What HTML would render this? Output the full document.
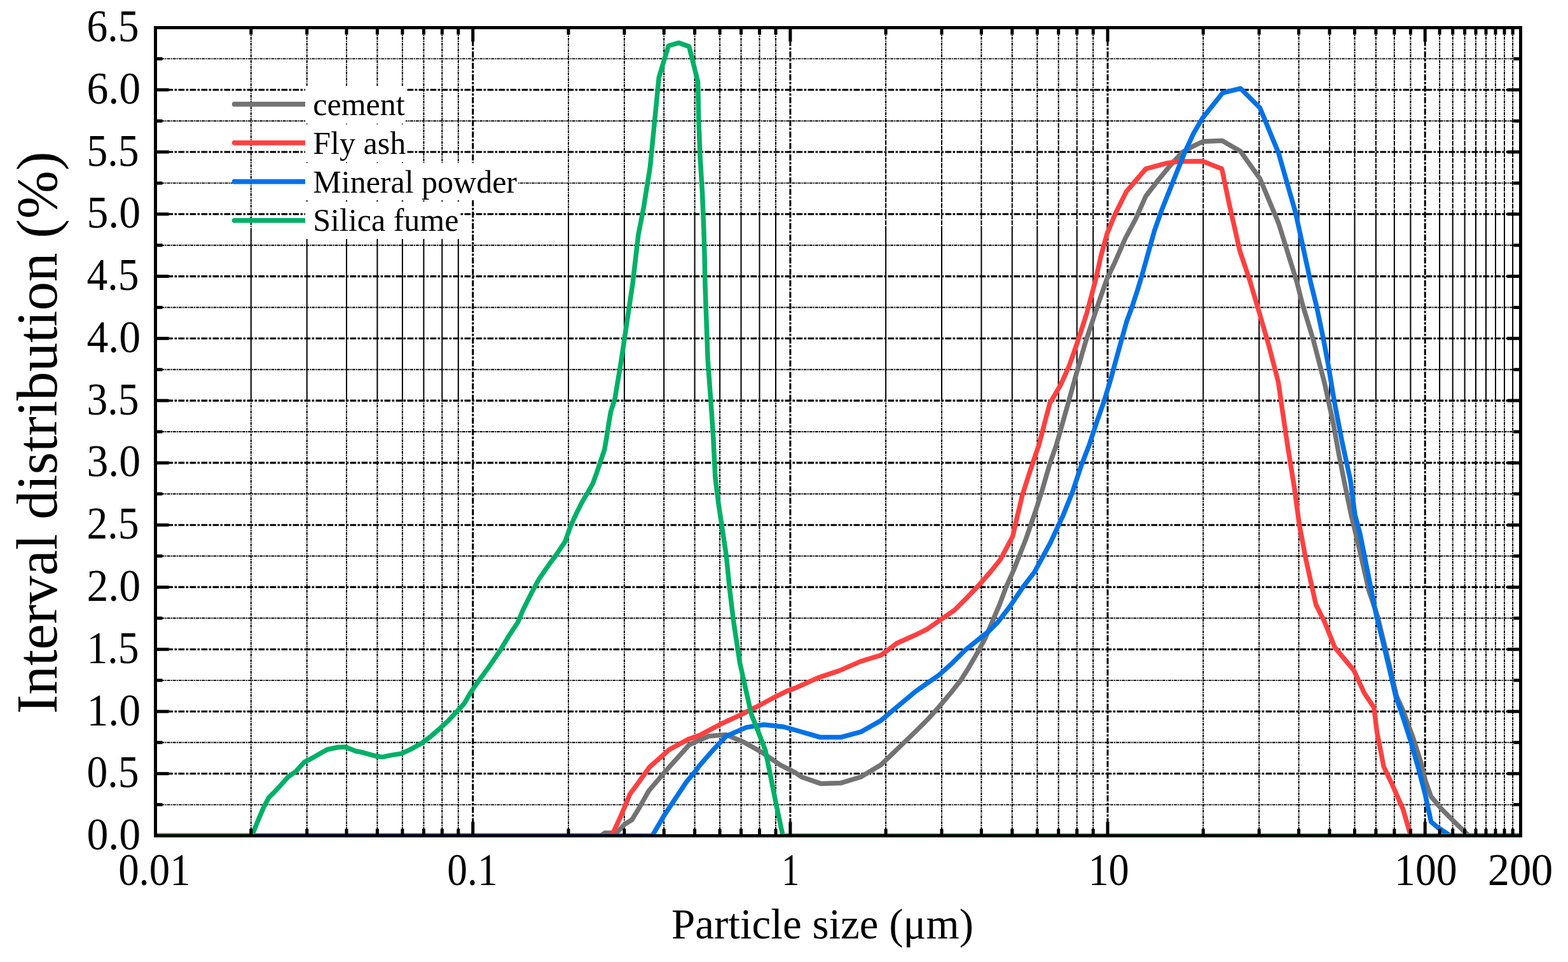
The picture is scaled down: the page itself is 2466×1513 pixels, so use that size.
<!DOCTYPE html><html><head><meta charset="utf-8"><title>Particle size distribution</title><style>
html,body{margin:0;padding:0;background:#fff;overflow:hidden;}
svg{display:block;}
text{font-family:"Liberation Serif","Times New Roman",serif;fill:#000;}
.tl{font-size:72px;}
.xt{font-size:67px;}
.yt{font-size:91px;}
.lg{font-size:50px;}
.hm{stroke-width:1.9;stroke-dasharray:4.9 1.1 2 1.1;}
.hM{stroke-width:3.1;stroke-dasharray:9.7 2.3 3.7 2.3;}
.vm{stroke-width:2;stroke-dasharray:4.6 1.3 1.9 1.3;}
.vs{stroke-width:2;}
.vl{stroke-width:2;stroke-dasharray:7.4 1.6;}
.vM{stroke-width:3.0;stroke-dasharray:9.7 2.3 3.7 2.3;}
</style></head><body><svg xmlns="http://www.w3.org/2000/svg" width="2466" height="1513" viewBox="0 0 2466 1513"><rect x="0" y="0" width="2466" height="1513" fill="#fff"/><g fill="none" stroke="#000"><line x1="244.5" y1="1265.6" x2="2391.5" y2="1265.6" class="hm"/><line x1="244.5" y1="1167.8" x2="2391.5" y2="1167.8" class="hm"/><line x1="244.5" y1="1070.1" x2="2391.5" y2="1070.1" class="hm"/><line x1="244.5" y1="972.3" x2="2391.5" y2="972.3" class="hm"/><line x1="244.5" y1="874.5" x2="2391.5" y2="874.5" class="hm"/><line x1="244.5" y1="776.8" x2="2391.5" y2="776.8" class="hm"/><line x1="244.5" y1="679.0" x2="2391.5" y2="679.0" class="hm"/><line x1="244.5" y1="581.2" x2="2391.5" y2="581.2" class="hm"/><line x1="244.5" y1="483.5" x2="2391.5" y2="483.5" class="hm"/><line x1="244.5" y1="385.7" x2="2391.5" y2="385.7" class="hm"/><line x1="244.5" y1="287.9" x2="2391.5" y2="287.9" class="hm"/><line x1="244.5" y1="190.2" x2="2391.5" y2="190.2" class="hm"/><line x1="244.5" y1="92.4" x2="2391.5" y2="92.4" class="hm"/><line x1="244.5" y1="1216.7" x2="2391.5" y2="1216.7" class="hM"/><line x1="244.5" y1="1119.0" x2="2391.5" y2="1119.0" class="hM"/><line x1="244.5" y1="1021.2" x2="2391.5" y2="1021.2" class="hM"/><line x1="244.5" y1="923.4" x2="2391.5" y2="923.4" class="hM"/><line x1="244.5" y1="825.7" x2="2391.5" y2="825.7" class="hM"/><line x1="244.5" y1="727.9" x2="2391.5" y2="727.9" class="hM"/><line x1="244.5" y1="630.1" x2="2391.5" y2="630.1" class="hM"/><line x1="244.5" y1="532.3" x2="2391.5" y2="532.3" class="hM"/><line x1="244.5" y1="434.6" x2="2391.5" y2="434.6" class="hM"/><line x1="244.5" y1="336.8" x2="2391.5" y2="336.8" class="hM"/><line x1="244.5" y1="239.0" x2="2391.5" y2="239.0" class="hM"/><line x1="244.5" y1="141.3" x2="2391.5" y2="141.3" class="hM"/><line x1="394.8" y1="1314.5" x2="394.8" y2="628" class="vm"/><line x1="394.8" y1="628" x2="394.8" y2="363" class="vs"/><line x1="394.8" y1="363" x2="394.8" y2="43.5" class="vm"/><line x1="482.7" y1="1314.5" x2="482.7" y2="628" class="vm"/><line x1="482.7" y1="628" x2="482.7" y2="363" class="vs"/><line x1="482.7" y1="363" x2="482.7" y2="43.5" class="vm"/><line x1="545.0" y1="1314.5" x2="545.0" y2="628" class="vm"/><line x1="545.0" y1="628" x2="545.0" y2="363" class="vs"/><line x1="545.0" y1="363" x2="545.0" y2="43.5" class="vm"/><line x1="593.4" y1="1314.5" x2="593.4" y2="628" class="vm"/><line x1="593.4" y1="628" x2="593.4" y2="363" class="vs"/><line x1="593.4" y1="363" x2="593.4" y2="43.5" class="vm"/><line x1="632.9" y1="1314.5" x2="632.9" y2="628" class="vm"/><line x1="632.9" y1="628" x2="632.9" y2="363" class="vs"/><line x1="632.9" y1="363" x2="632.9" y2="43.5" class="vm"/><line x1="666.4" y1="1314.5" x2="666.4" y2="628" class="vm"/><line x1="666.4" y1="628" x2="666.4" y2="363" class="vs"/><line x1="666.4" y1="363" x2="666.4" y2="43.5" class="vm"/><line x1="695.3" y1="1314.5" x2="695.3" y2="628" class="vm"/><line x1="695.3" y1="628" x2="695.3" y2="363" class="vs"/><line x1="695.3" y1="363" x2="695.3" y2="43.5" class="vm"/><line x1="720.8" y1="1314.5" x2="720.8" y2="628" class="vm"/><line x1="720.8" y1="628" x2="720.8" y2="363" class="vs"/><line x1="720.8" y1="363" x2="720.8" y2="43.5" class="vm"/><line x1="894.0" y1="1314.5" x2="894.0" y2="628" class="vm"/><line x1="894.0" y1="628" x2="894.0" y2="337" class="vs"/><line x1="894.0" y1="337" x2="894.0" y2="43.5" class="vm"/><line x1="981.9" y1="1314.5" x2="981.9" y2="628" class="vm"/><line x1="981.9" y1="628" x2="981.9" y2="337" class="vs"/><line x1="981.9" y1="337" x2="981.9" y2="43.5" class="vm"/><line x1="1044.2" y1="1314.5" x2="1044.2" y2="628" class="vm"/><line x1="1044.2" y1="628" x2="1044.2" y2="337" class="vs"/><line x1="1044.2" y1="337" x2="1044.2" y2="43.5" class="vm"/><line x1="1092.6" y1="1314.5" x2="1092.6" y2="628" class="vm"/><line x1="1092.6" y1="628" x2="1092.6" y2="337" class="vs"/><line x1="1092.6" y1="337" x2="1092.6" y2="43.5" class="vm"/><line x1="1132.1" y1="1314.5" x2="1132.1" y2="628" class="vm"/><line x1="1132.1" y1="628" x2="1132.1" y2="337" class="vs"/><line x1="1132.1" y1="337" x2="1132.1" y2="43.5" class="vm"/><line x1="1165.5" y1="1314.5" x2="1165.5" y2="628" class="vm"/><line x1="1165.5" y1="628" x2="1165.5" y2="337" class="vs"/><line x1="1165.5" y1="337" x2="1165.5" y2="43.5" class="vm"/><line x1="1194.5" y1="1314.5" x2="1194.5" y2="628" class="vm"/><line x1="1194.5" y1="628" x2="1194.5" y2="337" class="vs"/><line x1="1194.5" y1="337" x2="1194.5" y2="43.5" class="vm"/><line x1="1220.0" y1="1314.5" x2="1220.0" y2="628" class="vm"/><line x1="1220.0" y1="628" x2="1220.0" y2="337" class="vs"/><line x1="1220.0" y1="337" x2="1220.0" y2="43.5" class="vm"/><line x1="1393.1" y1="1314.5" x2="1393.1" y2="628" class="vm"/><line x1="1393.1" y1="628" x2="1393.1" y2="363" class="vs"/><line x1="1393.1" y1="363" x2="1393.1" y2="190" class="vl"/><line x1="1393.1" y1="190" x2="1393.1" y2="43.5" class="vm"/><line x1="1481.0" y1="1314.5" x2="1481.0" y2="628" class="vm"/><line x1="1481.0" y1="628" x2="1481.0" y2="363" class="vs"/><line x1="1481.0" y1="363" x2="1481.0" y2="190" class="vl"/><line x1="1481.0" y1="190" x2="1481.0" y2="43.5" class="vm"/><line x1="1543.4" y1="1314.5" x2="1543.4" y2="628" class="vm"/><line x1="1543.4" y1="628" x2="1543.4" y2="363" class="vs"/><line x1="1543.4" y1="363" x2="1543.4" y2="190" class="vl"/><line x1="1543.4" y1="190" x2="1543.4" y2="43.5" class="vm"/><line x1="1591.8" y1="1314.5" x2="1591.8" y2="628" class="vm"/><line x1="1591.8" y1="628" x2="1591.8" y2="363" class="vs"/><line x1="1591.8" y1="363" x2="1591.8" y2="190" class="vl"/><line x1="1591.8" y1="190" x2="1591.8" y2="43.5" class="vm"/><line x1="1631.3" y1="1314.5" x2="1631.3" y2="628" class="vm"/><line x1="1631.3" y1="628" x2="1631.3" y2="363" class="vs"/><line x1="1631.3" y1="363" x2="1631.3" y2="190" class="vl"/><line x1="1631.3" y1="190" x2="1631.3" y2="43.5" class="vm"/><line x1="1664.7" y1="1314.5" x2="1664.7" y2="628" class="vm"/><line x1="1664.7" y1="628" x2="1664.7" y2="363" class="vs"/><line x1="1664.7" y1="363" x2="1664.7" y2="190" class="vl"/><line x1="1664.7" y1="190" x2="1664.7" y2="43.5" class="vm"/><line x1="1693.7" y1="1314.5" x2="1693.7" y2="628" class="vm"/><line x1="1693.7" y1="628" x2="1693.7" y2="363" class="vs"/><line x1="1693.7" y1="363" x2="1693.7" y2="190" class="vl"/><line x1="1693.7" y1="190" x2="1693.7" y2="43.5" class="vm"/><line x1="1719.2" y1="1314.5" x2="1719.2" y2="628" class="vm"/><line x1="1719.2" y1="628" x2="1719.2" y2="363" class="vs"/><line x1="1719.2" y1="363" x2="1719.2" y2="190" class="vl"/><line x1="1719.2" y1="190" x2="1719.2" y2="43.5" class="vm"/><line x1="1892.3" y1="1314.5" x2="1892.3" y2="628" class="vm"/><line x1="1892.3" y1="628" x2="1892.3" y2="337" class="vs"/><line x1="1892.3" y1="337" x2="1892.3" y2="190" class="vl"/><line x1="1892.3" y1="190" x2="1892.3" y2="43.5" class="vm"/><line x1="1980.2" y1="1314.5" x2="1980.2" y2="628" class="vm"/><line x1="1980.2" y1="628" x2="1980.2" y2="337" class="vs"/><line x1="1980.2" y1="337" x2="1980.2" y2="190" class="vl"/><line x1="1980.2" y1="190" x2="1980.2" y2="43.5" class="vm"/><line x1="2042.6" y1="1314.5" x2="2042.6" y2="628" class="vm"/><line x1="2042.6" y1="628" x2="2042.6" y2="337" class="vs"/><line x1="2042.6" y1="337" x2="2042.6" y2="190" class="vl"/><line x1="2042.6" y1="190" x2="2042.6" y2="43.5" class="vm"/><line x1="2091.0" y1="1314.5" x2="2091.0" y2="628" class="vm"/><line x1="2091.0" y1="628" x2="2091.0" y2="337" class="vs"/><line x1="2091.0" y1="337" x2="2091.0" y2="190" class="vl"/><line x1="2091.0" y1="190" x2="2091.0" y2="43.5" class="vm"/><line x1="2130.5" y1="1314.5" x2="2130.5" y2="628" class="vm"/><line x1="2130.5" y1="628" x2="2130.5" y2="337" class="vs"/><line x1="2130.5" y1="337" x2="2130.5" y2="190" class="vl"/><line x1="2130.5" y1="190" x2="2130.5" y2="43.5" class="vm"/><line x1="2163.9" y1="1314.5" x2="2163.9" y2="628" class="vm"/><line x1="2163.9" y1="628" x2="2163.9" y2="337" class="vs"/><line x1="2163.9" y1="337" x2="2163.9" y2="190" class="vl"/><line x1="2163.9" y1="190" x2="2163.9" y2="43.5" class="vm"/><line x1="2192.9" y1="1314.5" x2="2192.9" y2="628" class="vm"/><line x1="2192.9" y1="628" x2="2192.9" y2="337" class="vs"/><line x1="2192.9" y1="337" x2="2192.9" y2="190" class="vl"/><line x1="2192.9" y1="190" x2="2192.9" y2="43.5" class="vm"/><line x1="2218.4" y1="1314.5" x2="2218.4" y2="628" class="vm"/><line x1="2218.4" y1="628" x2="2218.4" y2="337" class="vs"/><line x1="2218.4" y1="337" x2="2218.4" y2="190" class="vl"/><line x1="2218.4" y1="190" x2="2218.4" y2="43.5" class="vm"/><line x1="2264.1" y1="1314.5" x2="2264.1" y2="628" class="vm"/><line x1="2264.1" y1="628" x2="2264.1" y2="337" class="vs"/><line x1="2264.1" y1="337" x2="2264.1" y2="190" class="vl"/><line x1="2264.1" y1="190" x2="2264.1" y2="43.5" class="vm"/><line x1="2284.7" y1="1314.5" x2="2284.7" y2="628" class="vm"/><line x1="2284.7" y1="628" x2="2284.7" y2="337" class="vs"/><line x1="2284.7" y1="337" x2="2284.7" y2="190" class="vl"/><line x1="2284.7" y1="190" x2="2284.7" y2="43.5" class="vm"/><line x1="2303.6" y1="1314.5" x2="2303.6" y2="628" class="vm"/><line x1="2303.6" y1="628" x2="2303.6" y2="337" class="vs"/><line x1="2303.6" y1="337" x2="2303.6" y2="190" class="vl"/><line x1="2303.6" y1="190" x2="2303.6" y2="43.5" class="vm"/><line x1="2321.0" y1="1314.5" x2="2321.0" y2="628" class="vm"/><line x1="2321.0" y1="628" x2="2321.0" y2="337" class="vs"/><line x1="2321.0" y1="337" x2="2321.0" y2="190" class="vl"/><line x1="2321.0" y1="190" x2="2321.0" y2="43.5" class="vm"/><line x1="2337.0" y1="1314.5" x2="2337.0" y2="628" class="vm"/><line x1="2337.0" y1="628" x2="2337.0" y2="337" class="vs"/><line x1="2337.0" y1="337" x2="2337.0" y2="190" class="vl"/><line x1="2337.0" y1="190" x2="2337.0" y2="43.5" class="vm"/><line x1="2352.0" y1="1314.5" x2="2352.0" y2="628" class="vm"/><line x1="2352.0" y1="628" x2="2352.0" y2="337" class="vs"/><line x1="2352.0" y1="337" x2="2352.0" y2="190" class="vl"/><line x1="2352.0" y1="190" x2="2352.0" y2="43.5" class="vm"/><line x1="2366.0" y1="1314.5" x2="2366.0" y2="628" class="vm"/><line x1="2366.0" y1="628" x2="2366.0" y2="337" class="vs"/><line x1="2366.0" y1="337" x2="2366.0" y2="190" class="vl"/><line x1="2366.0" y1="190" x2="2366.0" y2="43.5" class="vm"/><line x1="2379.1" y1="1314.5" x2="2379.1" y2="628" class="vm"/><line x1="2379.1" y1="628" x2="2379.1" y2="337" class="vs"/><line x1="2379.1" y1="337" x2="2379.1" y2="190" class="vl"/><line x1="2379.1" y1="190" x2="2379.1" y2="43.5" class="vm"/><line x1="743.7" y1="1314.5" x2="743.7" y2="43.5" class="vM"/><line x1="1242.9" y1="1314.5" x2="1242.9" y2="43.5" class="vM"/><line x1="1742.0" y1="1314.5" x2="1742.0" y2="43.5" class="vM"/><line x1="2241.2" y1="1314.5" x2="2241.2" y2="43.5" class="vM"/></g><defs><clipPath id="pa"><rect x="244.5" y="43.5" width="2147.0" height="1271.0"/></clipPath></defs><path d="M244.5,1314.5 L945.0,1314.5 L951.0,1310.0 L962.0,1310.0 L970.6,1309.0 L982.2,1296.5 L993.9,1289.2 L1005.5,1270.3 L1020.1,1244.1 L1044.8,1215.0 L1084.1,1171.3 L1100.0,1164.0 L1114.8,1157.7 L1142.3,1155.6 L1169.8,1167.2 L1199.5,1184.1 L1227.0,1203.2 L1250.0,1214.7 L1260.6,1222.0 L1291.3,1232.6 L1322.0,1231.6 L1353.7,1222.0 L1385.4,1203.0 L1440.0,1150.4 L1458.5,1131.9 L1477.0,1111.5 L1495.6,1089.3 L1510.4,1070.7 L1523.3,1050.4 L1536.3,1028.1 L1549.3,1004.1 L1560.4,978.1 L1571.5,952.2 L1582.6,922.6 L1594.0,897.0 L1613.6,847.3 L1628.2,805.1 L1638.4,773.1 L1651.5,728.0 L1661.3,700.1 L1671.6,663.7 L1683.7,620.6 L1695.7,577.6 L1707.7,536.3 L1718.1,505.4 L1728.4,474.4 L1740.4,440.0 L1753.6,412.1 L1770.0,374.4 L1785.9,344.7 L1801.8,308.9 L1821.6,283.1 L1839.5,261.3 L1859.3,239.5 L1877.2,229.5 L1892.1,222.6 L1922.0,221.2 L1951.0,238.1 L1981.5,281.0 L2010.7,350.7 L2040.0,445.0 L2048.1,477.7 L2065.7,535.5 L2083.3,603.4 L2095.9,661.2 L2106.0,716.5 L2116.0,766.8 L2125.0,810.0 L2137.0,859.5 L2152.9,929.0 L2166.3,968.7 L2176.0,1008.3 L2186.0,1050.0 L2196.5,1095.0 L2206.5,1117.4 L2221.7,1158.5 L2233.9,1196.5 L2241.5,1226.9 L2250.6,1252.8 L2267.4,1272.6 L2287.1,1292.3 L2310.0,1314.5 L2391.5,1314.5" fill="none" stroke="#737373" stroke-width="7.5" stroke-linejoin="round" stroke-linecap="butt" clip-path="url(#pa)"/><path d="M244.5,1314.5 L962.0,1314.5 L976.4,1283.4 L990.9,1248.5 L1004.0,1231.0 L1021.5,1206.3 L1033.2,1196.1 L1052.1,1179.3 L1082.6,1162.6 L1100.0,1156.6 L1131.7,1139.7 L1163.5,1124.9 L1188.9,1112.2 L1218.5,1096.3 L1237.6,1086.8 L1250.0,1082.4 L1288.1,1065.4 L1319.8,1054.9 L1353.7,1040.1 L1385.4,1030.5 L1410.8,1011.5 L1440.0,998.5 L1458.5,989.3 L1477.0,976.3 L1501.1,959.6 L1519.6,941.1 L1540.0,919.8 L1558.5,898.5 L1573.3,880.0 L1592.6,843.7 L1599.1,815.3 L1607.8,778.9 L1618.0,746.9 L1628.2,716.4 L1633.8,700.1 L1642.4,667.1 L1651.0,634.4 L1668.2,605.2 L1681.9,574.2 L1694.0,539.8 L1709.5,491.6 L1716.3,465.8 L1723.2,440.0 L1731.3,403.2 L1741.1,367.5 L1753.6,337.1 L1771.4,301.4 L1801.8,265.7 L1833.9,256.8 L1853.6,254.1 L1891.3,253.6 L1921.6,265.5 L1933.0,320.0 L1950.0,395.0 L1965.2,440.0 L1981.5,495.3 L1995.4,543.1 L2010.4,600.9 L2018.0,653.7 L2025.5,704.0 L2035.6,766.8 L2043.4,825.0 L2053.7,879.4 L2061.6,915.1 L2069.5,950.8 L2083.4,978.6 L2099.3,1018.3 L2129.0,1054.0 L2145.6,1090.0 L2160.9,1112.8 L2165.4,1150.9 L2171.5,1181.3 L2176.1,1205.6 L2189.8,1234.5 L2206.5,1272.6 L2218.7,1314.5 L2391.5,1314.5" fill="none" stroke="#FF4040" stroke-width="7.5" stroke-linejoin="round" stroke-linecap="butt" clip-path="url(#pa)"/><path d="M244.5,1314.5 L1025.9,1314.5 L1044.8,1282.0 L1059.4,1260.1 L1079.7,1229.6 L1094.3,1212.1 L1100.0,1204.2 L1121.2,1179.9 L1142.3,1157.7 L1174.1,1143.9 L1201.6,1139.7 L1231.2,1142.9 L1250.0,1148.0 L1290.2,1159.6 L1322.0,1159.6 L1353.7,1151.2 L1385.4,1133.2 L1440.0,1087.4 L1458.5,1074.4 L1477.0,1061.5 L1495.6,1044.8 L1517.8,1022.6 L1536.3,1007.8 L1554.8,993.0 L1569.6,978.1 L1588.1,954.1 L1610.0,921.7 L1626.7,900.0 L1651.5,854.6 L1671.8,811.0 L1686.4,774.6 L1701.0,730.9 L1712.9,700.1 L1724.9,663.7 L1737.0,629.2 L1747.3,594.8 L1757.6,557.0 L1764.4,532.4 L1771.8,505.9 L1780.2,483.1 L1788.7,457.2 L1795.6,434.4 L1805.7,398.3 L1815.7,362.5 L1827.6,328.8 L1839.5,299.0 L1851.4,269.2 L1863.3,239.5 L1877.2,209.7 L1891.1,185.9 L1923.0,146.0 L1951.1,139.2 L1981.5,169.6 L2010.7,240.5 L2037.7,335.0 L2061.5,445.0 L2070.8,482.7 L2080.8,530.5 L2088.4,570.7 L2098.4,631.0 L2111.0,696.4 L2123.6,754.2 L2131.0,810.0 L2139.0,839.7 L2148.9,889.3 L2158.8,938.9 L2164.8,968.7 L2174.7,1008.3 L2184.6,1050.0 L2195.0,1095.0 L2206.5,1128.0 L2218.7,1166.1 L2230.8,1208.7 L2241.5,1249.7 L2250.6,1292.3 L2261.3,1301.5 L2281.0,1314.5 L2391.5,1314.5" fill="none" stroke="#0272E6" stroke-width="7.5" stroke-linejoin="round" stroke-linecap="butt" clip-path="url(#pa)"/><path d="M244.5,1314.5 L396.0,1314.5 L398.0,1309.7 L408.1,1284.9 L414.9,1269.2 L422.7,1254.6 L430.6,1246.7 L443.0,1233.2 L453.1,1222.0 L465.5,1213.0 L478.9,1198.3 L492.4,1191.6 L503.7,1184.9 L514.9,1178.7 L531.8,1175.3 L543.0,1174.7 L559.9,1181.5 L567.8,1182.8 L591.9,1189.3 L602.0,1190.6 L614.1,1187.9 L631.7,1185.1 L646.5,1178.1 L663.1,1168.9 L678.9,1156.9 L692.8,1144.8 L704.8,1133.7 L715.9,1121.7 L729.8,1106.9 L740.0,1089.5 L749.8,1074.9 L768.0,1050.1 L786.2,1023.6 L801.1,998.8 L814.3,979.0 L822.6,959.1 L835.8,932.7 L847.4,911.2 L862.3,889.7 L875.5,871.5 L888.8,851.7 L897.4,827.2 L906.5,807.4 L915.7,789.1 L924.8,773.9 L932.4,760.2 L938.5,743.5 L944.6,725.2 L950.7,707.0 L953.7,690.2 L956.7,670.4 L960.5,647.6 L967.0,627.5 L977.1,566.7 L986.1,506.0 L995.1,445.2 L1003.9,369.4 L1012.0,327.8 L1022.4,263.0 L1036.3,121.8 L1051.3,72.0 L1067.5,67.4 L1083.7,73.1 L1097.6,128.7 L1098.8,188.9 L1101.1,246.8 L1104.6,304.6 L1106.9,362.5 L1108.0,400.0 L1109.0,450.0 L1111.0,506.0 L1113.2,566.7 L1117.7,627.5 L1121.5,683.0 L1124.9,751.3 L1130.0,792.3 L1136.2,833.3 L1142.3,874.4 L1147.4,925.6 L1153.6,976.9 L1163.5,1042.3 L1172.0,1080.4 L1181.5,1122.8 L1193.1,1152.4 L1203.7,1179.9 L1212.2,1222.2 L1220.6,1264.6 L1231.2,1314.5 L2391.5,1314.5" fill="none" stroke="#00B067" stroke-width="7.5" stroke-linejoin="round" stroke-linecap="butt" clip-path="url(#pa)"/><rect x="480" y="135.0" width="158" height="58.6" fill="#fff"/><rect x="480" y="195.6" width="158" height="58.6" fill="#fff"/><rect x="480" y="256.3" width="335" height="58.6" fill="#fff"/><rect x="480" y="317.2" width="242" height="58.6" fill="#fff"/><path d="M368,163.9H480" stroke="#737373" stroke-width="7.6" fill="none"/><ellipse cx="368.2" cy="163.9" rx="3.4" ry="3.8" fill="#737373"/><text x="492.3" y="181.2" class="lg">cement</text><path d="M368,224.6H480" stroke="#FF4040" stroke-width="7.6" fill="none"/><ellipse cx="368.2" cy="224.6" rx="3.4" ry="3.8" fill="#FF4040"/><text x="492.3" y="241.8" class="lg">Fly ash</text><path d="M368,285.6H480" stroke="#0272E6" stroke-width="7.6" fill="none"/><ellipse cx="368.2" cy="285.6" rx="3.4" ry="3.8" fill="#0272E6"/><text x="492.3" y="302.5" class="lg">Mineral powder</text><path d="M368,346.7H480" stroke="#00B067" stroke-width="7.6" fill="none"/><ellipse cx="368.2" cy="346.7" rx="3.4" ry="3.8" fill="#00B067"/><text x="492.3" y="363.4" class="lg">Silica fume</text><path d="M244.5,1265.6h11M2391.5,1265.6h-11M244.5,1167.8h11M2391.5,1167.8h-11M244.5,1070.1h11M2391.5,1070.1h-11M244.5,972.3h11M2391.5,972.3h-11M244.5,874.5h11M2391.5,874.5h-11M244.5,776.8h11M2391.5,776.8h-11M244.5,679.0h11M2391.5,679.0h-11M244.5,581.2h11M2391.5,581.2h-11M244.5,483.5h11M2391.5,483.5h-11M244.5,385.7h11M2391.5,385.7h-11M244.5,287.9h11M2391.5,287.9h-11M244.5,190.2h11M2391.5,190.2h-11M244.5,92.4h11M2391.5,92.4h-11M244.5,1216.7h21M2391.5,1216.7h-21M244.5,1119.0h21M2391.5,1119.0h-21M244.5,1021.2h21M2391.5,1021.2h-21M244.5,923.4h21M2391.5,923.4h-21M244.5,825.7h21M2391.5,825.7h-21M244.5,727.9h21M2391.5,727.9h-21M244.5,630.1h21M2391.5,630.1h-21M244.5,532.3h21M2391.5,532.3h-21M244.5,434.6h21M2391.5,434.6h-21M244.5,336.8h21M2391.5,336.8h-21M244.5,239.0h21M2391.5,239.0h-21M244.5,141.3h21M2391.5,141.3h-21M394.8,1314.5v-11M394.8,43.5v11M482.7,1314.5v-11M482.7,43.5v11M545.0,1314.5v-11M545.0,43.5v11M593.4,1314.5v-11M593.4,43.5v11M632.9,1314.5v-11M632.9,43.5v11M666.4,1314.5v-11M666.4,43.5v11M695.3,1314.5v-11M695.3,43.5v11M720.8,1314.5v-11M720.8,43.5v11M894.0,1314.5v-11M894.0,43.5v11M981.9,1314.5v-11M981.9,43.5v11M1044.2,1314.5v-11M1044.2,43.5v11M1092.6,1314.5v-11M1092.6,43.5v11M1132.1,1314.5v-11M1132.1,43.5v11M1165.5,1314.5v-11M1165.5,43.5v11M1194.5,1314.5v-11M1194.5,43.5v11M1220.0,1314.5v-11M1220.0,43.5v11M1393.1,1314.5v-11M1393.1,43.5v11M1481.0,1314.5v-11M1481.0,43.5v11M1543.4,1314.5v-11M1543.4,43.5v11M1591.8,1314.5v-11M1591.8,43.5v11M1631.3,1314.5v-11M1631.3,43.5v11M1664.7,1314.5v-11M1664.7,43.5v11M1693.7,1314.5v-11M1693.7,43.5v11M1719.2,1314.5v-11M1719.2,43.5v11M1892.3,1314.5v-11M1892.3,43.5v11M1980.2,1314.5v-11M1980.2,43.5v11M2042.6,1314.5v-11M2042.6,43.5v11M2091.0,1314.5v-11M2091.0,43.5v11M2130.5,1314.5v-11M2130.5,43.5v11M2163.9,1314.5v-11M2163.9,43.5v11M2192.9,1314.5v-11M2192.9,43.5v11M2218.4,1314.5v-11M2218.4,43.5v11M2264.1,1314.5v-11M2264.1,43.5v11M2284.7,1314.5v-11M2284.7,43.5v11M2303.6,1314.5v-11M2303.6,43.5v11M2321.0,1314.5v-11M2321.0,43.5v11M2337.0,1314.5v-11M2337.0,43.5v11M2352.0,1314.5v-11M2352.0,43.5v11M2366.0,1314.5v-11M2366.0,43.5v11M2379.1,1314.5v-11M2379.1,43.5v11M743.7,1314.5v-22M743.7,43.5v22M1242.9,1314.5v-22M1242.9,43.5v22M1742.0,1314.5v-22M1742.0,43.5v22M2241.2,1314.5v-22M2241.2,43.5v22" stroke="#000" stroke-width="5" fill="none"/><rect x="244.5" y="43.5" width="2147.0" height="1271.0" fill="none" stroke="#000" stroke-width="5"/><text transform="translate(136.48,1336.0) scale(0.9405,1)" class="tl">0.0</text><text transform="translate(136.57,1238.2) scale(0.9107,1)" class="tl">0.5</text><text transform="translate(136.48,1140.5) scale(0.9405,1)" class="tl">1.0</text><text transform="translate(136.57,1042.7) scale(0.9107,1)" class="tl">1.5</text><text transform="translate(136.48,944.9) scale(0.9405,1)" class="tl">2.0</text><text transform="translate(136.57,847.2) scale(0.9107,1)" class="tl">2.5</text><text transform="translate(136.48,749.4) scale(0.9405,1)" class="tl">3.0</text><text transform="translate(136.57,651.6) scale(0.9107,1)" class="tl">3.5</text><text transform="translate(136.48,553.8) scale(0.9405,1)" class="tl">4.0</text><text transform="translate(136.57,456.1) scale(0.9107,1)" class="tl">4.5</text><text transform="translate(136.48,358.3) scale(0.9405,1)" class="tl">5.0</text><text transform="translate(136.57,260.5) scale(0.9107,1)" class="tl">5.5</text><text transform="translate(136.48,162.8) scale(0.9405,1)" class="tl">6.0</text><text transform="translate(136.57,65.0) scale(0.9107,1)" class="tl">6.5</text><text transform="translate(186.20,1391.5) scale(0.9000,1)" class="tl">0.01</text><text transform="translate(703.36,1391.5) scale(0.8807,1)" class="tl">0.1</text><text transform="translate(1229.13,1391.5) scale(0.7800,1)" class="tl">1</text><text transform="translate(1711.44,1391.5) scale(0.8937,1)" class="tl">10</text><text transform="translate(2193.02,1391.5) scale(0.9131,1)" class="tl">100</text><text transform="translate(2339.65,1391.5) scale(0.9510,1)" class="tl">200</text><text x="1293.5" y="1476" class="xt" text-anchor="middle">Particle size (μm)</text><text transform="translate(88.7,680.5) rotate(-90)" class="yt" text-anchor="middle">Interval distribution (%)</text></svg></body></html>
